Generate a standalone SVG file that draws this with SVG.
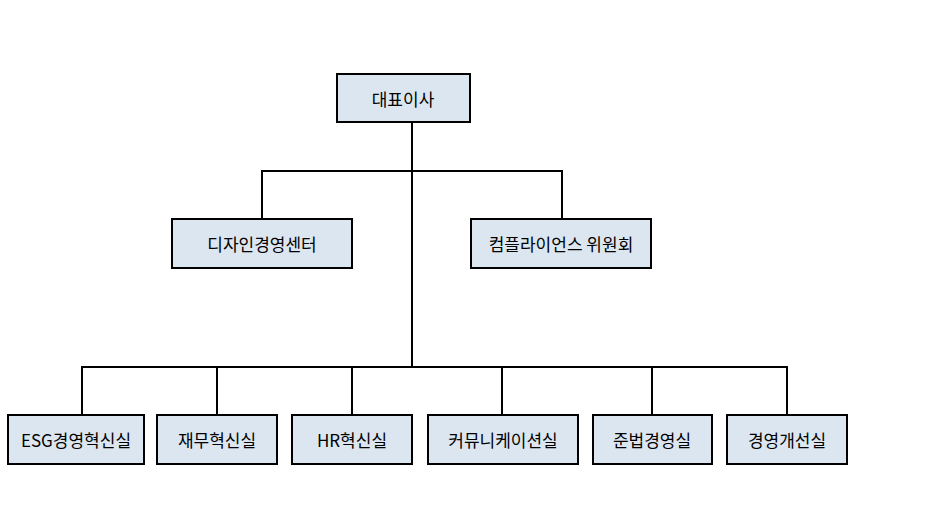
<svg xmlns="http://www.w3.org/2000/svg" width="942" height="510" viewBox="0 0 942 510">
<style>
.b{fill:#dce6f1;stroke:#000;stroke-width:2}
.t{font-family:"Noto Sans CJK KR","Liberation Sans",sans-serif;font-size:17px;text-anchor:middle;dominant-baseline:central;fill:#000}
.c{fill:none;stroke:#000;stroke-width:2}
</style>
<rect width="942" height="510" fill="#fff"/>
<g id="connectors">
<path class="c" d="M412 122V367M262 218V171H562V218M82 415V367H787V415M217 367V415M352 367V415M502 367V415M652 367V415"/>
</g>
<g id="n0"><rect class="b" x="337" y="74" width="133" height="48"/><text class="t" x="403" y="98">대표이사</text></g>
<g id="n1"><rect class="b" x="172" y="219" width="180" height="49"/><text class="t" x="262" y="243">디자인경영센터</text></g>
<g id="n2"><rect class="b" x="471" y="219" width="180" height="49"/><text class="t" x="561" y="243">컴플라이언스 위원회</text></g>
<g id="n3"><rect class="b" x="8" y="415" width="136" height="49"/><text class="t" x="76" y="439">ESG경영혁신실</text></g>
<g id="n4"><rect class="b" x="157" y="415" width="120" height="49"/><text class="t" x="217" y="439">재무혁신실</text></g>
<g id="n5"><rect class="b" x="292" y="415" width="120" height="49"/><text class="t" x="352" y="439">HR혁신실</text></g>
<g id="n6"><rect class="b" x="428" y="415" width="150" height="49"/><text class="t" x="503" y="439">커뮤니케이션실</text></g>
<g id="n7"><rect class="b" x="593" y="415" width="119" height="49"/><text class="t" x="652" y="439">준법경영실</text></g>
<g id="n8"><rect class="b" x="727" y="415" width="120" height="49"/><text class="t" x="787" y="439">경영개선실</text></g>
</svg>
